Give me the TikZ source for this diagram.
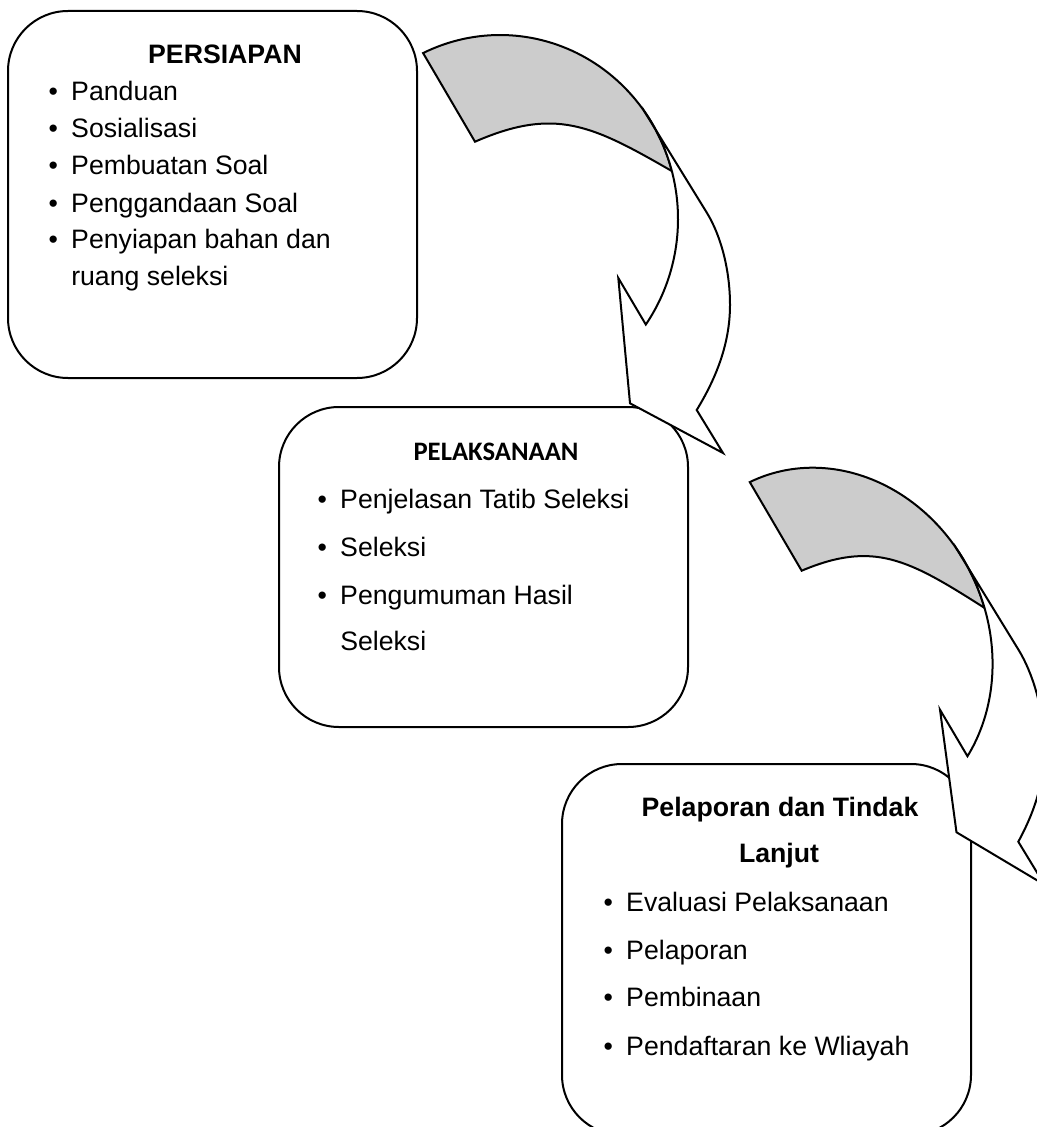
\documentclass[tikz,border=0pt]{standalone}
\usepackage{fontspec}
\setmainfont{Liberation Sans}
\newfontfamily\carlitofont{Carlito}
\definecolor{bandgray}{RGB}{204,204,204}
\tikzset{
  stagebox/.style={draw=black, line width=1.5pt, fill=white, rounded corners=45pt,
    minimum width=306.75pt, inner sep=0pt},
  headtext/.style={anchor=base, inner sep=0pt, font=\fontsize{20}{24}\selectfont\bfseries},
  itemtext/.style={anchor=base west, inner sep=0pt, font=\fontsize{20}{24}\selectfont},
  arrowline/.style={draw=black, line width=1.5pt, line join=miter, miter limit=6},
}
\newcommand\bul{\llap{\textbullet\hspace{10pt}}}
\newcommand\drawCurvedArrow{%
  \filldraw[arrowline, fill=bandgray]
    plot[domain=-115.6:-15.1, samples=60] ({500+178*cos(\x)},{219+184*sin(\x)})
    .. controls (591.7,124.9) and (555,106.9) .. (475,141.7) -- cycle;
  \filldraw[arrowline, fill=white]
    plot[domain=-15.1:35, samples=50] ({500+178*cos(\x)},{219+184*sin(\x)})
    -- (618.3,278) -- (630,403.3) -- (723,453) -- (696.7,410)
    .. controls (715,380) and (730,345) .. (730,305)
    .. controls (730,270) and (721,236) .. (707,213)
    -- (644,110.8)
    -- plot[domain=-36:-15.1, samples=20] ({500+178*cos(\x)},{219+184*sin(\x)})
    -- cycle;
}
\begin{document}
\begin{tikzpicture}[x=0.75pt, y=-0.75pt]
\useasboundingbox (0,0) rectangle (1037,1127);
\fill[white] (0,0) rectangle (1037,1127);
\clip (0,0) rectangle (1037,1127);

% boxes
\node[stagebox, minimum height=275.25pt] (box1) at (212.5,194.5) {};
\node[stagebox, minimum height=240pt] (box2) at (483.5,567) {};
\node[stagebox, minimum height=278.25pt] (box3) at (766.5,949.5) {};

% box 1 text
\node[headtext] (h1) at (225,64) {PERSIAPAN};
\node[itemtext] (a1) at (71,100.7) {\bul Panduan};
\node[itemtext] (a2) at (71,137.7) {\bul Sosialisasi};
\node[itemtext] (a3) at (71,175) {\bul Pembuatan Soal};
\node[itemtext] (a4) at (71,212) {\bul Penggandaan Soal};
\node[itemtext] (a5) at (71,248.7) {\bul Penyiapan bahan dan};
\node[itemtext] (a6) at (71,285.3) {ruang seleksi};

% box 2 text
\node[anchor=base, inner sep=0pt, font={\carlitofont\fontsize{20}{24}\selectfont\bfseries}] (h2) at (496,460) {PELAKSANAAN};
\node[itemtext] (b1) at (340,508.7) {\bul Penjelasan Tatib Seleksi};
\node[itemtext] (b2) at (340,556.7) {\bul Seleksi};
\node[itemtext] (b3) at (340,604) {\bul Pengumuman Hasil};
\node[itemtext] (b4) at (340,650.7) {Seleksi};

% box 3 text
\node[headtext] (h3) at (780,816.7) {Pelaporan dan Tindak};
\node[headtext] (h3b) at (779,862.7) {Lanjut};
\node[itemtext] (c1) at (626,911.7) {\bul Evaluasi Pelaksanaan};
\node[itemtext] (c2) at (626,959) {\bul Pelaporan};
\node[itemtext] (c3) at (626,1006.7) {\bul Pembinaan};
\node[itemtext] (c4) at (626,1055) {\bul Pendaftaran ke Wliayah};

% curved arrows
\begin{scope}
  \drawCurvedArrow
\end{scope}
\begin{scope}[cm={0.922,-0.0437,-0.0455,0.974,(267.95pt,-308.94pt)}]
  \drawCurvedArrow
\end{scope}
\end{tikzpicture}
\end{document}
